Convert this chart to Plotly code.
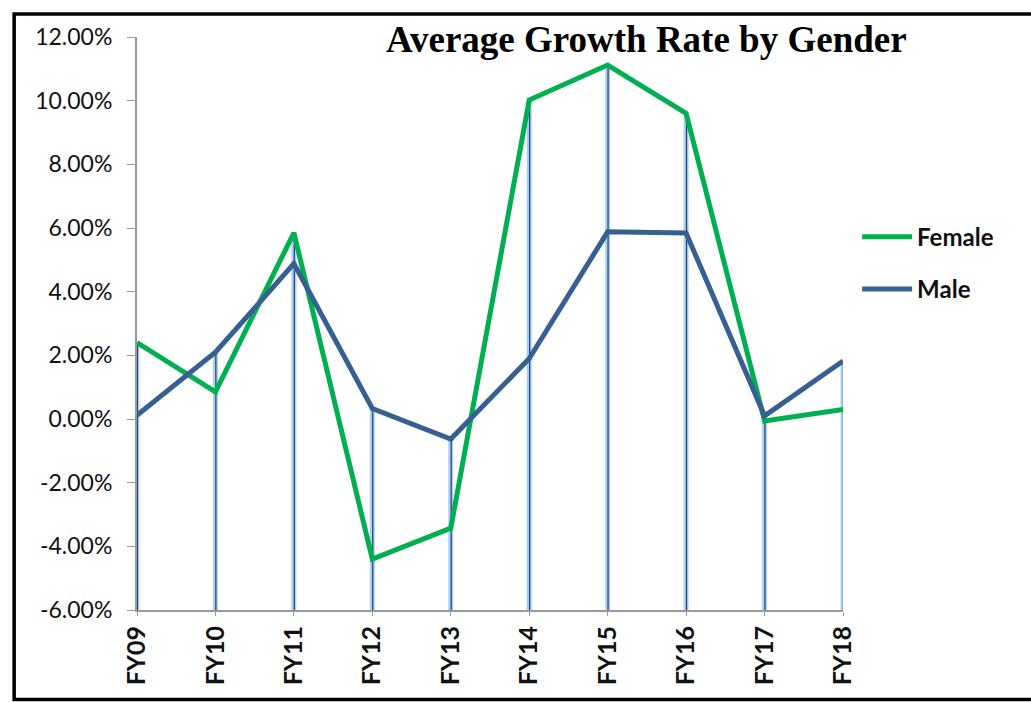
import plotly.graph_objects as go

categories = ["FY09", "FY10", "FY11", "FY12", "FY13", "FY14", "FY15", "FY16", "FY17", "FY18"]
female = [2.40, 0.85, 5.85, -4.40, -3.43, 10.02, 11.12, 9.60, -0.06, 0.30]
male = [0.12, 2.10, 4.88, 0.33, -0.63, 1.90, 5.88, 5.84, 0.10, 1.82]
y_ticks = [-6, -4, -2, 0, 2, 4, 6, 8, 10, 12]
y_min, y_max = -6, 12

idx = list(range(len(categories)))

fig = go.Figure()

# drop lines from the highest point to the axis floor
drop_x, drop_y, edge_x, edge_y = [], [], [], []
for i, (f, m) in enumerate(zip(female, male)):
    top = max(f, m)
    drop_x += [i, i, None]
    drop_y += [top, y_min, None]
    edge_x += [i + 0.005, i + 0.005, None]
    edge_y += [top, y_min, None]

fig.add_trace(go.Scatter(x=drop_x, y=drop_y, mode="lines",
                         line=dict(color="#a8d0f6", width=5),
                         showlegend=False, hoverinfo="skip"))
fig.add_trace(go.Scatter(x=edge_x, y=edge_y, mode="lines",
                         line=dict(color="#2b3f6b", width=1.2),
                         showlegend=False, hoverinfo="skip"))

fig.add_trace(go.Scatter(x=idx, y=female, mode="lines", name="Female", legendgroup="f",
                         line=dict(color="#00b050", width=5)))
fig.add_trace(go.Scatter(x=idx, y=male, mode="lines", name="Male", legendgroup="m",
                         line=dict(color="#376092", width=5)))

fig.update_layout(
    width=1031, height=702,
    paper_bgcolor="white", plot_bgcolor="white",
    margin=dict(l=137, r=188, t=37, b=92),
    font=dict(family="Lato, 'Open Sans', sans-serif", color="#111"),
    legend=dict(x=1.02, y=0.69, xanchor="left", yanchor="top",
                font=dict(size=24, family="Lato, sans-serif", color="#111", weight="bold"),
                tracegroupgap=18, itemwidth=50, bgcolor="rgba(0,0,0,0)"),
    shapes=[dict(type="rect", xref="paper", yref="paper",
                 x0=-0.174, x1=1.285, y0=-0.156, y1=1.040,
                 line=dict(color="black", width=3.5), fillcolor="rgba(0,0,0,0)",
                 layer="below")],
    annotations=[dict(text="<b>Average Growth Rate by Gender</b>", xref="paper", yref="paper",
                      x=0.722, y=0.995, xanchor="center", yanchor="middle", showarrow=False,
                      font=dict(family="'Liberation Serif', 'Times New Roman', serif", size=37,
                                color="black"))],
)

fig.update_xaxes(
    range=[0, 9], tickmode="array", tickvals=idx, ticktext=categories,
    tickangle=-90, showgrid=False, zeroline=False,
    showline=True, linecolor="#999", linewidth=2,
    ticks="outside", ticklen=4, tickcolor="#999",
    tickfont=dict(size=25, family="Lato, sans-serif", color="#111", weight="bold"),
)
fig.update_yaxes(
    range=[y_min, y_max], tickmode="array", tickvals=y_ticks,
    ticktext=[f"{v:.2f}%" for v in y_ticks],
    showgrid=False, zeroline=False,
    showline=True, linecolor="#999", linewidth=2,
    ticks="outside", ticklen=8, tickcolor="#999", ticklabelstandoff=10,
    tickfont=dict(size=23, family="Lato, sans-serif", color="#111"),
)

fig.write_html("out.html", config={"displayModeBar": False},
               post_script="document.body.style.margin='0px';")
